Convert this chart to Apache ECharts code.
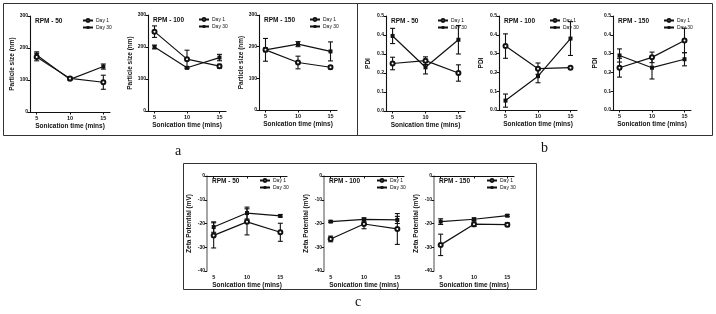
<!DOCTYPE html>
<html>
<head>
<meta charset="utf-8">
<script src="https://cdn.jsdelivr.net/npm/echarts@6/dist/echarts.min.js"></script>
<style>
  html, body { margin: 0; padding: 0; background: #fff; }
  #container { width: 716px; height: 314px; }
</style>
</head>
<body>
<div id="container"></div>
<script>
// sonication time (x) and rpm panels
const sonication = [5, 10, 15];
const rpmLabels = ["RPM - 50", "RPM - 100", "RPM - 150"];

// particle size (nm), one row per rpm
const sizeDay1 = [[172, 105, 93], [248, 162, 140], [190, 150, 135]];
const sizeDay1Sd = [[12, 4, 22], [18, 28, 6], [6, 20, 5]];
const sizeDay30 = [[178, 102, 142], [200, 135, 167], [190, 208, 185]];
const sizeDay30Sd = [[10, 3, 8], [6, 3, 10], [36, 8, 30]];

// PDI
const pdiDay1 = [[0.25, 0.265, 0.2], [0.34, 0.22, 0.225], [0.225, 0.28, 0.37]];
const pdiDay1Sd = [[0.033, 0.02, 0.043], [0.065, 0.03, 0.004], [0.05, 0.028, 0.065]];
const pdiDay30 = [[0.395, 0.23, 0.375], [0.05, 0.18, 0.38], [0.29, 0.225, 0.27]];
const pdiDay30Sd = [[0.04, 0.035, 0.075], [0.035, 0.035, 0.09], [0.035, 0.06, 0.035]];

// zeta potential (mV)
const zetaDay1 = [[-25, -19.3, -23.7], [-26.5, -20.2, -22.3], [-29, -20.3, -20.5]];
const zetaDay1Sd = [[5.3, 5.5, 3.8], [1.2, 2, 6.5], [4.5, 1, 0.8]];
const zetaDay30 = [[-21.5, -15.6, -16.8], [-19.2, -18.3, -18.5], [-19.2, -18.2, -16.7]];
const zetaDay30Sd = [[2.2, 2.5, 0.5], [0.3, 0.7, 1.5], [1.2, 0.5, 0.4]];

const font = "Liberation Sans";

// panels: [left, top, width, height] of each plot area
const panels = [
  { pos: [30, 16, 80, 96], yName: "Particle size (nm)", min: 0, max: 300, step: 100, d1: sizeDay1, s1: sizeDay1Sd, d30: sizeDay30, s30: sizeDay30Sd, fmt: v => v },
  { pos: [148, 15, 78, 96], yName: "Particle size (nm)", min: 0, max: 300, step: 100, d1: sizeDay1, s1: sizeDay1Sd, d30: sizeDay30, s30: sizeDay30Sd, fmt: v => v },
  { pos: [259, 15, 78, 95], yName: "Particle size (nm)", min: 0, max: 300, step: 100, d1: sizeDay1, s1: sizeDay1Sd, d30: sizeDay30, s30: sizeDay30Sd, fmt: v => v },
  { pos: [386, 16, 79, 95], yName: "PDI", min: 0, max: 0.5, step: 0.1, d1: pdiDay1, s1: pdiDay1Sd, d30: pdiDay30, s30: pdiDay30Sd, fmt: v => v.toFixed(1) },
  { pos: [499, 16, 78, 94], yName: "PDI", min: 0, max: 0.5, step: 0.1, d1: pdiDay1, s1: pdiDay1Sd, d30: pdiDay30, s30: pdiDay30Sd, fmt: v => v.toFixed(1) },
  { pos: [613, 16, 78, 94], yName: "PDI", min: 0, max: 0.5, step: 0.1, d1: pdiDay1, s1: pdiDay1Sd, d30: pdiDay30, s30: pdiDay30Sd, fmt: v => v.toFixed(1) },
  { pos: [207, 176, 80, 95], yName: "Zeta Potential (mV)", min: -40, max: 0, step: 10, d1: zetaDay1, s1: zetaDay1Sd, d30: zetaDay30, s30: zetaDay30Sd, fmt: v => v, gray: true },
  { pos: [324, 176, 80, 95], yName: "Zeta Potential (mV)", min: -40, max: 0, step: 10, d1: zetaDay1, s1: zetaDay1Sd, d30: zetaDay30, s30: zetaDay30Sd, fmt: v => v, gray: true },
  { pos: [434, 176, 80, 95], yName: "Zeta Potential (mV)", min: -40, max: 0, step: 10, d1: zetaDay1, s1: zetaDay1Sd, d30: zetaDay30, s30: zetaDay30Sd, fmt: v => v, gray: true }
];

function errorBars(api) {
  const x = api.value(0), m = api.value(1), s = api.value(2);
  const top = api.coord([x, m + s]);
  const bot = api.coord([x, m - s]);
  const st = { stroke: "#111", lineWidth: 1.1 };
  return {
    type: "group",
    children: [
      { type: "line", shape: { x1: top[0], y1: top[1], x2: bot[0], y2: bot[1] }, style: st },
      { type: "line", shape: { x1: top[0] - 2.5, y1: top[1], x2: top[0] + 2.5, y2: top[1] }, style: st },
      { type: "line", shape: { x1: bot[0] - 2.5, y1: bot[1], x2: bot[0] + 2.5, y2: bot[1] }, style: st }
    ]
  };
}

let grid = [], xAxis = [], yAxis = [], series = [], legend = [], title = [];

panels.forEach((p, i) => {
  const r = i % 3;
  const [l, t, w, h] = p.pos;
  grid.push({ left: l, top: t, width: w, height: h });
  xAxis.push({
    type: "value", gridIndex: i, min: 4, max: 16,
    name: "Sonication time (mins)", nameLocation: "middle", nameGap: 11,
    nameTextStyle: { fontFamily: font, fontWeight: "bold", fontSize: 6.5, color: "#111" },
    axisLine: { lineStyle: { color: "#111", width: 1.1 } },
    axisTick: { length: 2.5, customValues: sonication, lineStyle: { color: "#111" } },
    axisLabel: { customValues: sonication, fontFamily: font, fontWeight: "bold", fontSize: 5.5, color: "#111", margin: 3 },
    splitLine: { show: false }
  });
  yAxis.push({
    type: "value", gridIndex: i, min: p.min, max: p.max, interval: p.step,
    name: p.yName, nameLocation: "middle", nameGap: 14,
    nameTextStyle: { fontFamily: font, fontWeight: "bold", fontSize: 6.5, color: "#111" },
    axisLine: { show: true, lineStyle: { color: p.gray ? "#888" : "#111", width: p.gray ? 1.5 : 1.1 } },
    axisTick: { show: true, length: 2.5, lineStyle: { color: "#111" } },
    axisLabel: { fontFamily: font, fontWeight: "bold", fontSize: 5, color: "#111", margin: 2, formatter: p.fmt },
    splitLine: { show: false }
  });
  const e1 = sonication.map((x, k) => [x, p.d1[r][k], p.s1[r][k]]);
  const e30 = sonication.map((x, k) => [x, p.d30[r][k], p.s30[r][k]]);
  series.push({
    type: "custom", xAxisIndex: i, yAxisIndex: i, renderItem: (params, api) => errorBars(api),
    data: e30, silent: true, z: 1
  });
  series.push({
    type: "custom", xAxisIndex: i, yAxisIndex: i, renderItem: (params, api) => errorBars(api),
    data: e1, silent: true, z: 1
  });
  series.push({
    name: "Day 30", type: "line", xAxisIndex: i, yAxisIndex: i,
    data: sonication.map((x, k) => [x, p.d30[r][k]]),
    symbol: "rect", symbolSize: 4, z: 3,
    lineStyle: { color: "#111", width: 1.2 }, itemStyle: { color: "#111" }
  });
  series.push({
    name: "Day 1", type: "line", xAxisIndex: i, yAxisIndex: i,
    data: sonication.map((x, k) => [x, p.d1[r][k]]),
    symbol: "emptyCircle", symbolSize: 4, z: 3,
    lineStyle: { color: "#111", width: 1.2 }, itemStyle: { color: "#111", borderColor: "#111", borderWidth: 1.1 }
  });
  legend.push({
    data: ["Day 1", "Day 30"], orient: "vertical",
    left: l + w - 28, top: t + 2, itemWidth: 10, itemHeight: 3.5, itemGap: 2, padding: 0,
    textStyle: { fontFamily: font, fontSize: 5, color: "#111", padding: [0, 0, 0, -2] }
  });
  title.push({
    text: rpmLabels[r], left: l + 5, top: t + 2, padding: 0,
    textStyle: { fontFamily: font, fontWeight: "bold", fontSize: 6.5, color: "#111" }
  });
});

const myChart = echarts.init(document.getElementById("container"));
const option = {
  animation: false,
  title: title,
  legend: legend,
  grid: grid,
  xAxis: xAxis,
  yAxis: yAxis,
  series: series,
  graphic: [
    { type: "rect", shape: { x: 3.5, y: 3.5, width: 354, height: 132 }, style: { fill: null, stroke: "#333", lineWidth: 1 } },
    { type: "rect", shape: { x: 357.5, y: 3.5, width: 355, height: 132 }, style: { fill: null, stroke: "#333", lineWidth: 1 } },
    { type: "rect", shape: { x: 183.5, y: 163.5, width: 353, height: 126 }, style: { fill: null, stroke: "#333", lineWidth: 1 } },
    { type: "text", left: 175, top: 144, style: { text: "a", font: "14px 'Liberation Serif'", fill: "#111" } },
    { type: "text", left: 541, top: 141, style: { text: "b", font: "14px 'Liberation Serif'", fill: "#111" } },
    { type: "text", left: 355, top: 295, style: { text: "c", font: "14px 'Liberation Serif'", fill: "#111" } }
  ]
};
myChart.setOption(option);
</script>
</body>
</html>
